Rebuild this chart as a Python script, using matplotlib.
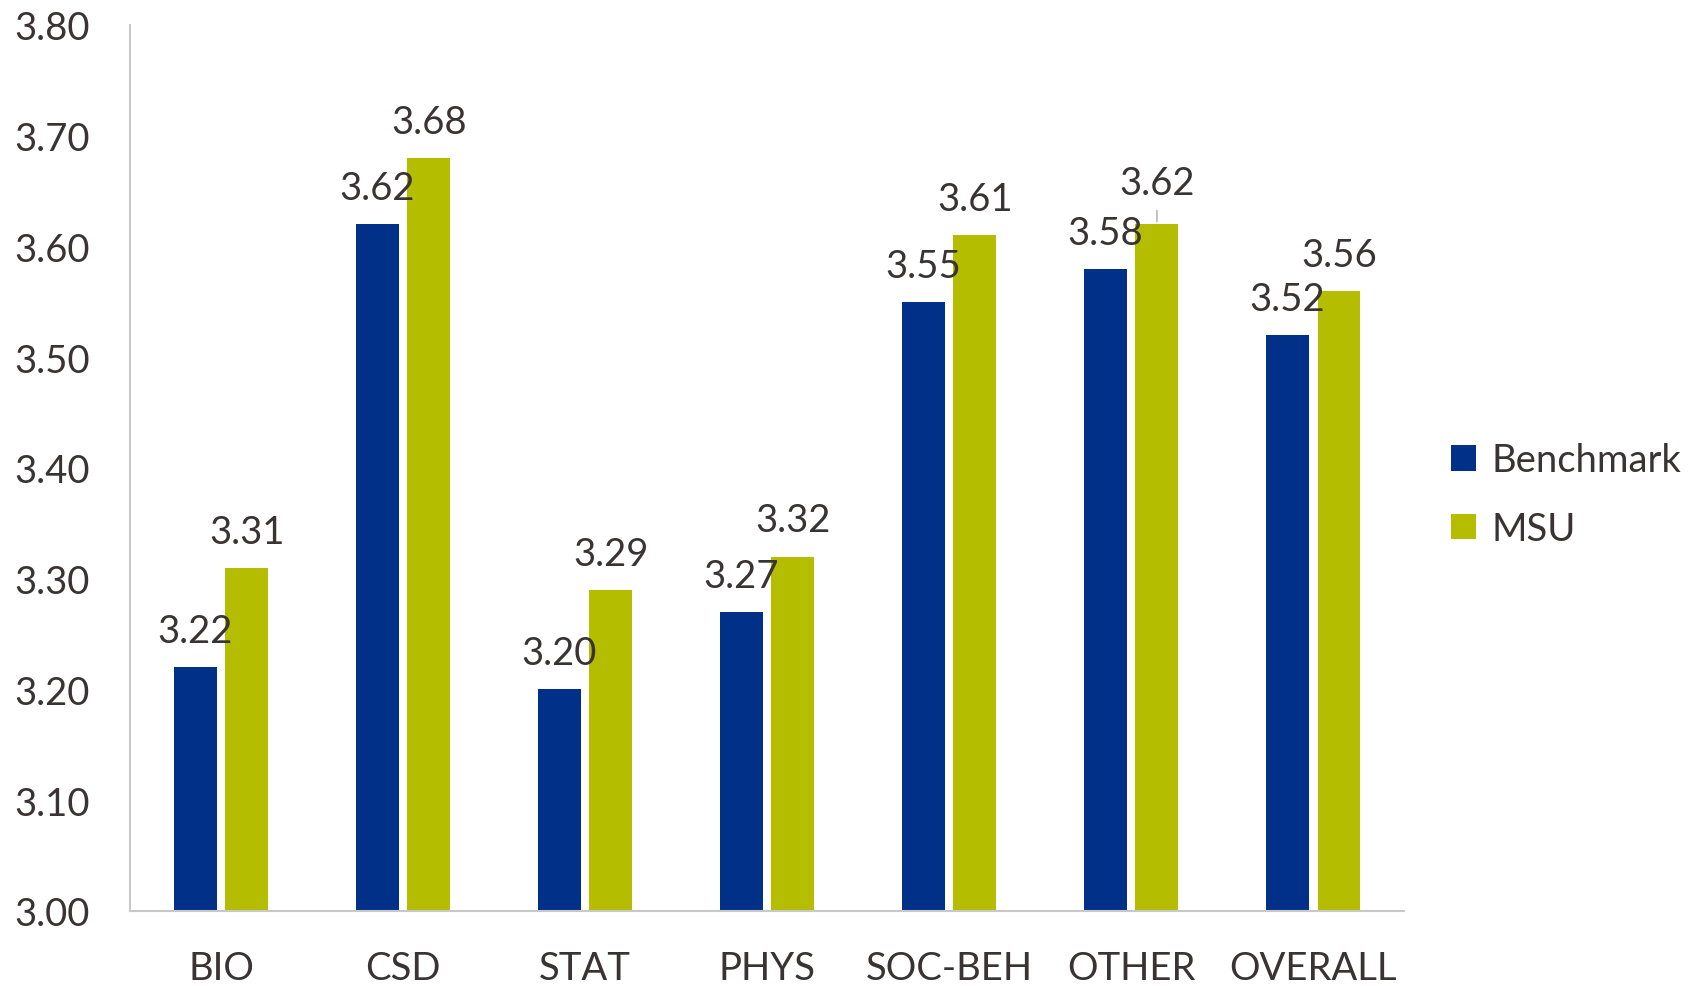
import matplotlib.pyplot as plt
import numpy as np

categories = ["BIO", "CSD", "STAT", "PHYS", "SOC-BEH", "OTHER", "OVERALL"]
benchmark = [3.22, 3.62, 3.20, 3.27, 3.55, 3.58, 3.52]
msu = [3.31, 3.68, 3.29, 3.32, 3.61, 3.62, 3.56]
yticks = [3.00, 3.10, 3.20, 3.30, 3.40, 3.50, 3.60, 3.70, 3.80]

BLUE = "#003087"
GREEN = "#b5bd00"
TEXT = "#3a3333"
AXIS = "#c8c8c8"
FS = 27.5

plt.rcParams["font.family"] = ["Lato", "DejaVu Sans"]

fig = plt.figure(figsize=(17.02, 9.87), dpi=100)
ax = fig.add_axes([0.0764, 0.076, 0.7486, 0.8977])

x = np.arange(len(categories))
w = 0.236
off = 0.142
b1 = ax.bar(x - off, benchmark, w, color=BLUE, label="Benchmark", zorder=2)
b2 = ax.bar(x + off, msu, w, color=GREEN, label="MSU", zorder=2)

for rect, v in zip(b1, benchmark):
    ax.annotate(f"{v:.2f}", (rect.get_x() + rect.get_width() / 2, v),
                xytext=(0, 26), textcoords="offset points",
                ha="center", va="center", fontsize=FS, color=TEXT, zorder=3)
for i, (rect, v) in enumerate(zip(b2, msu)):
    dy = 26
    if categories[i] == "OTHER":
        dy = 30
        ax.annotate("", (rect.get_x() + rect.get_width() / 2, v),
                    xytext=(0, 12), textcoords="offset points",
                    arrowprops=dict(arrowstyle="-", color="#b0a8a8", lw=1))
    ax.annotate(f"{v:.2f}", (rect.get_x() + rect.get_width() / 2, v),
                xytext=(0, dy), textcoords="offset points",
                ha="center", va="center", fontsize=FS, color=TEXT, zorder=3)

ax.set_ylim(3.0, 3.8)
ax.set_xlim(-0.5, len(categories) - 0.5)
ax.set_yticks(yticks)
ax.set_yticklabels([f"{t:.2f}" for t in yticks])
ax.set_xticks(x)
ax.set_xticklabels(categories)
ax.tick_params(axis="both", length=0, labelsize=FS, labelcolor=TEXT)
ax.tick_params(axis="y", pad=29)
ax.tick_params(axis="x", pad=28)

for s in ["top", "right"]:
    ax.spines[s].set_visible(False)
for s in ["left", "bottom"]:
    ax.spines[s].set_color(AXIS)
    ax.spines[s].set_linewidth(1.5)

ax.legend(loc="center left", bbox_to_anchor=(1.01, 0.47), frameon=False,
          fontsize=FS, labelcolor=TEXT, handlelength=0.65, handleheight=0.65,
          handletextpad=0.4, labelspacing=0.85)

fig.savefig("out.png", dpi=100)
